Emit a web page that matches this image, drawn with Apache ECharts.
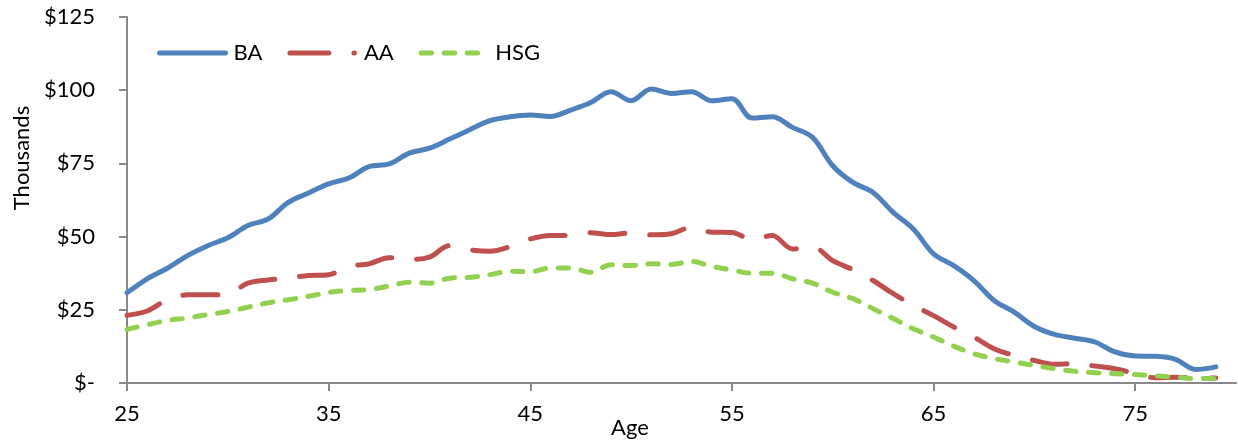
<!DOCTYPE html>
<html>
<head>
<meta charset="utf-8">
<script src="https://cdn.jsdelivr.net/npm/echarts@6/dist/echarts.min.js"></script>
<style>
html,body{margin:0;padding:0;background:#fff;}
#chart{width:1238px;height:442px;}
</style>
</head>
<body>
<div id="chart"></div>
<script>
var ages = [25,26,27,28,29,30,31,32,33,34,35,36,37,38,39,40,41,42,43,44,45,46,47,48,49,50,51,52,53,54,55,56,57,58,59,60,61,62,63,64,65,66,67,68,69,70,71,72,73,74,75,76,77,78,79];
var seriesNames = ['BA','AA','HSG'];
var BA = [30.8,35.6,39.2,43.5,46.9,49.6,53.8,56.0,61.7,64.9,68.0,70.0,73.9,74.8,78.5,80.2,83.3,86.5,89.6,90.9,91.5,91.0,93.2,95.8,99.5,96.4,100.4,98.9,99.5,96.4,97.1,90.5,90.9,87.3,83.9,74.2,68.5,65.1,58.3,52.6,44.1,40.1,35.0,28.2,24.2,19.3,16.6,15.3,14.0,10.6,9.2,9.1,8.1,4.6,5.5];
var AA = [23.1,24.6,28.4,30.1,30.1,30.4,34.1,35.2,35.9,36.7,37.0,39.8,40.7,42.8,42.2,43.0,46.9,45.5,45.0,46.6,49.2,50.4,50.4,51.3,50.7,51.3,50.6,51.0,53.2,51.5,51.4,49.0,50.4,45.8,46.4,41.8,38.7,35.0,30.5,26.5,23.0,19.1,15.7,11.7,9.4,7.7,6.4,6.6,5.8,4.9,3.2,1.8,2.0,1.8,1.7];
var HSG = [18.3,19.9,21.4,22.2,23.4,24.4,25.9,27.4,28.4,29.6,30.9,31.6,31.9,33.1,34.4,34.1,35.8,36.1,37.0,38.2,38.0,39.3,39.3,37.8,40.4,40.1,40.7,40.5,41.5,39.8,38.6,37.5,37.5,35.6,34.1,31.0,28.8,25.4,22.0,18.5,15.7,12.6,10.0,8.3,7.2,6.0,4.9,4.0,3.5,3.2,2.9,2.4,2.0,1.5,1.5];
var xTicks = [25,35,45,55,65,75];

function pairs(vals){ return ages.map(function(a,i){ return [a, vals[i]]; }); }

var FONT = 'Lato, "Open Sans", sans-serif';
var axisColor = '#898989';
var chart = echarts.init(document.getElementById('chart'), null, {renderer:'canvas'});
chart.setOption({
  animation:false,
  backgroundColor:'#ffffff',
  grid:{left:127, right:2, top:17, bottom:59, containLabel:false},
  legend:{
    left:152, top:37,
    itemWidth:66, itemHeight:14, itemGap:25,
    itemStyle:{opacity:0},
    lineStyle:{width:5, cap:'round'},
    textStyle:{fontFamily:FONT, fontSize:22, color:'#000', padding:[0,0,0,3]},
    data:[
      {name:'BA'},
      {name:'AA', lineStyle:{width:5, cap:'round', type:[39,25,0.5,200]}},
      {name:'HSG'}
    ]
  },
  xAxis:{
    type:'value', min:25, max:80, interval:10,
    axisLine:{lineStyle:{color:axisColor, width:2}},
    axisTick:{show:true, length:8, lineStyle:{color:axisColor, width:2}, customValues:xTicks},
    axisLabel:{fontFamily:FONT, fontSize:22, color:'#000', margin:20, customValues:xTicks},
    splitLine:{show:false}
  },
  yAxis:{
    type:'value', min:0, max:125, interval:25,
    axisLine:{show:true, lineStyle:{color:axisColor, width:2}},
    axisTick:{show:true, length:8, lineStyle:{color:axisColor, width:2}},
    axisLabel:{fontFamily:FONT, fontSize:22, color:'#000', margin:32,
      formatter:function(v){ return v===0 ? '$-' : '$' + v; }},
    splitLine:{show:false}
  },
  graphic:[
    {type:'text', x:22, y:158, rotation:Math.PI/2,
      style:{text:'Thousands', fontFamily:FONT, fontSize:22, fill:'#000', align:'center', verticalAlign:'middle'}},
    {type:'text', x:630, y:428,
      style:{text:'Age', fontFamily:FONT, fontSize:22, fill:'#000', align:'center', verticalAlign:'middle'}}
  ],
  series:[
    {name:seriesNames[0], type:'line', data:pairs(BA), smooth:0.35, symbol:'none',
      lineStyle:{color:'#4F81BD', width:5, cap:'round', join:'round'}, itemStyle:{color:'#4F81BD'}},
    {name:seriesNames[1], type:'line', data:pairs(AA), smooth:0.35, symbol:'none',
      lineStyle:{color:'#C0504D', width:5, type:[35,25], cap:'round', join:'round'}, itemStyle:{color:'#C0504D'}},
    {name:seriesNames[2], type:'line', data:pairs(HSG), smooth:0.35, symbol:'none',
      lineStyle:{color:'#92D050', width:5, type:[10.5,12.5], cap:'round', join:'round'}, itemStyle:{color:'#92D050'}}
  ]
});
</script>
</body>
</html>
